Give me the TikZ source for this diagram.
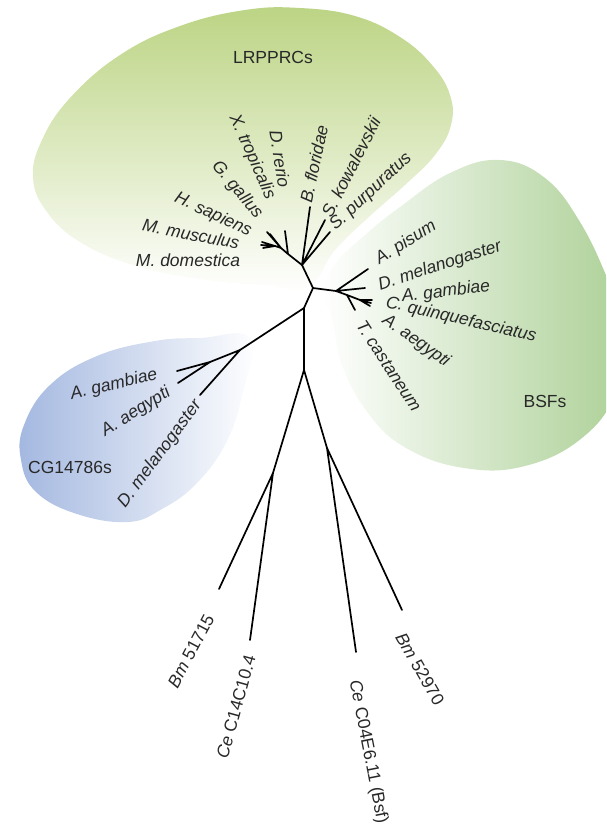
\documentclass[tikz,border=0pt]{standalone}
\usepackage{fontspec}
\setmainfont{Liberation Sans}
\definecolor{lrgreen}{RGB}{188,212,132}
\definecolor{bsgreen}{RGB}{172,208,150}
\definecolor{cgblue}{RGB}{164,184,224}
\definecolor{labgray}{RGB}{40,40,40}
\tikzset{
  branch/.style={line width=1.7pt, line cap=round, line join=round},
  taxon/.style={font=\fontsize{17.5}{20}\selectfont\itshape, text=labgray, inner sep=0pt},
  clade/.style={font=\fontsize{17.5}{20}\selectfont, text=labgray, inner sep=0pt},
}

\begin{document}
\begin{tikzpicture}[x=1pt,y=-1pt]
		%%%%% START %%%%%
		\useasboundingbox (0,0) rectangle (606,831);
		\clip (0,0) rectangle (606,831);
		
		% clades
		\shade[top color=lrgreen, bottom color=white] plot[smooth cycle, tension=0.7] coordinates {(308,287) (335,250) (370,216) (405,185) (435,155) (451,125) (450,95) (432,65) (400,37) (355,16) (300,8) (245,10) (180,26) (120,55) (70,98) (42,140) (33,178) (47,212) (80,242) (133,265) (200,279) (262,285)};
		\shade[left color=white, right color=bsgreen] plot[smooth cycle, tension=0.7] coordinates {(322,292) (332,318) (342,365) (368,413) (406,448) (464,468) (525,466) (582,438) (616,392) (626,330) (608,280) (580,222) (545,178) (500,160) (450,173) (400,207) (365,235) (336,263)};
		\shade[left color=cgblue, right color=white] plot[smooth cycle, tension=0.7] coordinates {(250,338) (200,338) (155,341) (97,356) (50,385) (24,425) (21,460) (36,492) (77,514) (128,522) (162,509) (196,484) (226,443) (243,392)};
		
		\node[clade] (lrpprc) at (273,57) {LRPPRCs};
		\node[clade] (bsf) at (545,401) {BSFs};
		\node[clade] (cg) at (70,467) {CG14786s};
		
		% inner nodes
		\coordinate (c0) at (313,288);
		\coordinate (lr) at (302,265);
		\coordinate (vt) at (281,248);
		\coordinate (vd) at (288,254);
		\coordinate (mm) at (275,246);
		\coordinate (bs) at (336,291);
		\coordinate (bi) at (347,295);
		\coordinate (bq) at (360,300);
		\coordinate (lo) at (304,308);
		\coordinate (cgn) at (240,350);
		\coordinate (cga) at (210,362);
		\coordinate (nb) at (304,370);
		\coordinate (nl) at (273,473);
		\coordinate (nr) at (327,448);
		
		% tips
		\coordinate (tbflo) at (310,207);
		\coordinate (tskow) at (325,220);
		\coordinate (tspur) at (330,232);
		\coordinate (tdrer) at (285,231);
		\coordinate (txtro) at (267,232);
		\coordinate (tggal) at (270,234);
		\coordinate (thsap) at (262,242);
		\coordinate (tmmus) at (261,245);
		\coordinate (tmdom) at (263,248);
		\coordinate (tapis) at (368,269);
		\coordinate (tdmel) at (365,288);
		\coordinate (tagam) at (372,300);
		\coordinate (tcqui) at (371,303);
		\coordinate (taaeg) at (370,306);
		\coordinate (ttcas) at (355,310);
		\coordinate (tcgam) at (177,371);
		\coordinate (tcaeg) at (178,383);
		\coordinate (tcmel) at (200,395);
		\coordinate (tbm1) at (219,589);
		\coordinate (tce1) at (250,640);
		\coordinate (tce2) at (356,652);
		\coordinate (tbm2) at (402,610);
		
		% branches
		\draw[branch] (c0) -- (lr) (c0) -- (bs) (c0) -- (lo);
		\draw[branch] (lr) -- (tbflo) (lr) -- (tskow) (lr) -- (tspur);
		\draw[branch] (lr) -- (vd) -- (vt) (vd) -- (tdrer);
		\draw[branch] (vt) -- (txtro) (vt) -- (tggal) (vt) -- (mm);
		\draw[branch] (mm) -- (thsap) (mm) -- (tmmus) (mm) -- (tmdom);
		\draw[branch] (bs) -- (tapis) (bs) -- (tdmel) (bs) -- (bi);
		\draw[branch] (bi) -- (bq) (bi) -- (ttcas);
		\draw[branch] (bq) -- (tagam) (bq) -- (tcqui) (bq) -- (taaeg);
		\draw[branch] (lo) -- (cgn) (lo) -- (nb);
		\draw[branch] (cgn) -- (cga) (cgn) -- (tcmel);
		\draw[branch] (cga) -- (tcgam) (cga) -- (tcaeg);
		\draw[branch] (nb) -- (nl) (nb) -- (nr);
		\draw[branch] (nl) -- (tbm1) (nl) -- (tce1);
		\draw[branch] (nr) -- (tce2) (nr) -- (tbm2);
		
		% LRPPRC labels
		\node[taxon] (lmdom) at (188,260) {M. domestica};
		\node[taxon, rotate=-11] (lmmus) at (191,234) {M. musculus};
		\node[taxon, rotate=-25] (lhsap) at (213,215) {H. sapiens};
		\node[taxon, rotate=-50] (lggal) at (237,190) {G. gallus};
		\node[taxon, rotate=-66] (lxtro) at (252,157) {X. tropicalis};
		\node[taxon, rotate=-81] (ldrer) at (280,159) {D. rerio};
		\node[taxon, rotate=78] (lbflo) at (314,164) {B. floridae};
		\node[taxon, rotate=63] (lskow) at (351,167) {S. kowalevskii};
		\node[taxon, rotate=43] (lspur) at (371,192) {S. purpuratus};
		
		% BSF labels
		\node[taxon, rotate=32] (lapis) at (406,243) {A. pisum};
		\node[taxon, rotate=18] (ldmel) at (440,266) {D. melanogaster};
		\node[taxon, rotate=7] (lagam) at (446,292) {A. gambiae};
		\node[taxon, rotate=-13] (lcqui) at (461,320) {C. quinquefasciatus};
		\node[taxon, rotate=-35] (laaeg) at (416,341) {A. aegypti};
		\node[taxon, rotate=-57] (ltcas) at (389,366) {T. castaneum};
		
		% CG14786 labels
		\node[taxon, rotate=13] (lcgam) at (114,385) {A. gambiae};
		\node[taxon, rotate=32] (lcaeg) at (136,412) {A. aegypti};
		\node[taxon, rotate=53.5] (lcmel) at (160,454) {D. melanogaster};
		
		% nematodes
		\node[clade, rotate=62] (lbm1) at (191,651) {\textit{Bm} 51715};
		\node[clade, rotate=74.5] (lce1) at (236,707) {\textit{Ce} C14C10.4};
		\node[clade, rotate=-79] (lce2) at (368,752) {\textit{Ce} C04E6.11 (Bsf)};
		\node[clade, rotate=-60] (lbm2) at (420,669) {\textit{Bm} 52970};
		%%%%% END %%%%%
\end{tikzpicture}
\end{document}
